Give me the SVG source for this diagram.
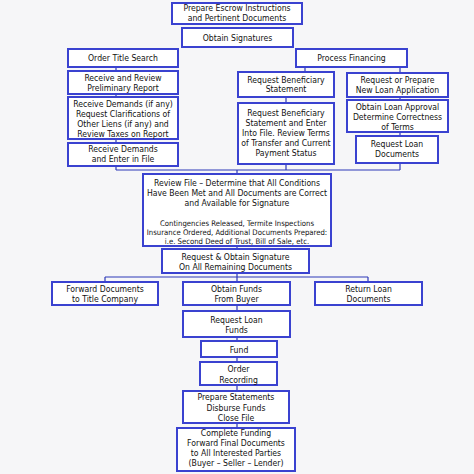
<svg xmlns="http://www.w3.org/2000/svg" width="474" height="474" viewBox="0 0 474 474">
<style>
.b{fill:#ffffff;stroke:#3a42d0;stroke-width:2}
.t{font-family:"DejaVu Sans Condensed","DejaVu Sans",sans-serif;font-size:8.6px;fill:#111111;text-anchor:middle}
.s{font-size:7.7px}
.c line{stroke:#2d38b8;stroke-width:1.2}
</style>
<rect width="474" height="474" fill="#f6f6f8"/>
<g class="c" id="connectors">
<line x1="305" y1="67" x2="305" y2="72"/>
<line x1="400" y1="67" x2="400" y2="73"/>
<line x1="116" y1="67" x2="116" y2="170"/>
<line x1="286" y1="97" x2="286" y2="170"/>
<line x1="400" y1="97" x2="400" y2="170"/>
<line x1="116" y1="170" x2="400" y2="170"/>
<line x1="237" y1="170" x2="237" y2="174"/>
<line x1="237" y1="246" x2="237" y2="282"/>
<line x1="105" y1="277" x2="368" y2="277"/>
<line x1="105" y1="277" x2="105" y2="282"/>
<line x1="368" y1="277" x2="368" y2="282"/>
<line x1="237" y1="305" x2="237" y2="428"/>
</g>
<g id="n1"><rect class="b" x="172" y="3" width="130" height="21"/><text class="t" x="237" y="11">Prepare Escrow Instructions</text><text class="t" x="237" y="21">and Pertinent Documents</text></g>
<g id="n2"><rect class="b" x="182" y="28" width="111" height="19"/><text class="t" x="237.5" y="40.5">Obtain Signatures</text></g>
<g id="n3"><rect class="b" x="68" y="49" width="110" height="18"/><text class="t" x="123" y="61">Order Title Search</text></g>
<g id="n4"><rect class="b" x="68" y="71" width="110" height="23"/><text class="t" x="123" y="81">Receive and Review</text><text class="t" x="123" y="91">Preliminary Report</text></g>
<g id="n5"><rect class="b" x="68" y="97" width="110" height="42"/><text class="t" x="123" y="107">Receive Demands (if any)</text><text class="t" x="123" y="117">Request Clarifications of</text><text class="t" x="123" y="127">Other Liens (if any) and</text><text class="t" x="123" y="137">Review Taxes on Report</text></g>
<g id="n6"><rect class="b" x="68" y="143" width="110" height="23"/><text class="t" x="123" y="152">Receive Demands</text><text class="t" x="123" y="162">and Enter in File</text></g>
<g id="n7"><rect class="b" x="296" y="49" width="111" height="18"/><text class="t" x="351.5" y="61">Process Financing</text></g>
<g id="n8"><rect class="b" x="238" y="72" width="96" height="25"/><text class="t" x="286" y="83">Request Beneficiary</text><text class="t" x="286" y="92">Statement</text></g>
<g id="n9"><rect class="b" x="347" y="73" width="101" height="24"/><text class="t" x="397.5" y="83">Request or Prepare</text><text class="t" x="397.5" y="93">New Loan Application</text></g>
<g id="n10"><rect class="b" x="238" y="103" width="96" height="61"/><text class="t" x="286" y="116">Request Beneficiary</text><text class="t" x="286" y="126">Statement and Enter</text><text class="t" x="286" y="136">Into File. Review Terms</text><text class="t" x="286" y="146">of Transfer and Current</text><text class="t" x="286" y="156">Payment Status</text></g>
<g id="n11"><rect class="b" x="347" y="100" width="101" height="32"/><text class="t" x="397.5" y="110">Obtain Loan Approval</text><text class="t" x="397.5" y="120">Determine Correctness</text><text class="t" x="397.5" y="130">of Terms</text></g>
<g id="n12"><rect class="b" x="356" y="136" width="82" height="27"/><text class="t" x="397" y="147">Request Loan</text><text class="t" x="397" y="157">Documents</text></g>
<g id="n13"><rect class="b" x="143" y="174" width="188" height="72"/><text class="t" x="237" y="186">Review File – Determine that All Conditions</text><text class="t" x="237" y="196">Have Been Met and All Documents are Correct</text><text class="t" x="237" y="206">and Available for Signature</text><text class="t s" x="237" y="225.5">Contingencies Released, Termite Inspections</text><text class="t s" x="237" y="234.5">Insurance Ordered, Additional Documents Prepared:</text><text class="t s" x="237" y="243.5">i.e. Second Deed of Trust, Bill of Sale, etc.</text></g>
<g id="n14"><rect class="b" x="162" y="249" width="147" height="24"/><text class="t" x="235.5" y="260">Request &amp; Obtain Signature</text><text class="t" x="235.5" y="270">On All Remaining Documents</text></g>
<g id="n15"><rect class="b" x="52" y="282" width="106" height="23"/><text class="t" x="105" y="292">Forward Documents</text><text class="t" x="105" y="302">to Title Company</text></g>
<g id="n16"><rect class="b" x="183" y="282" width="107" height="23"/><text class="t" x="236.5" y="292">Obtain Funds</text><text class="t" x="236.5" y="302">From Buyer</text></g>
<g id="n17"><rect class="b" x="315" y="282" width="107" height="23"/><text class="t" x="368.5" y="292">Return Loan</text><text class="t" x="368.5" y="302">Documents</text></g>
<g id="n18"><rect class="b" x="183" y="311" width="107" height="26"/><text class="t" x="236.5" y="323">Request Loan</text><text class="t" x="236.5" y="333">Funds</text></g>
<g id="n19"><rect class="b" x="201" y="341" width="76" height="16"/><text class="t" x="239" y="352.5">Fund</text></g>
<g id="n20"><rect class="b" x="200" y="362" width="77" height="23"/><text class="t" x="238.5" y="372">Order</text><text class="t" x="238.5" y="383">Recording</text></g>
<g id="n21"><rect class="b" x="183" y="391" width="106" height="32"/><text class="t" x="236" y="400">Prepare Statements</text><text class="t" x="236" y="411">Disburse Funds</text><text class="t" x="236" y="421">Close File</text></g>
<g id="n22"><rect class="b" x="177" y="428" width="118" height="43"/><text class="t" x="236" y="436">Complete Funding</text><text class="t" x="236" y="446">Forward Final Documents</text><text class="t" x="236" y="456">to All Interested Parties</text><text class="t" x="236" y="466">(Buyer – Seller – Lender)</text></g>
</svg>
